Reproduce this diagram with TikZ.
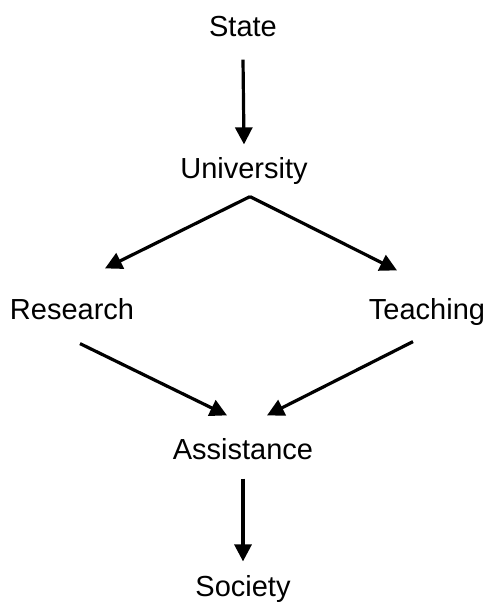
\documentclass[tikz,border=0pt]{standalone}
\usepackage{fontspec}
\setmainfont{Liberation Sans}
\usetikzlibrary{arrows.meta,positioning,calc}
\tikzset{>={Triangle[length=8.5pt,width=8.5pt]}}
\tikzset{lbl/.style={inner sep=0pt,text height=10.5pt,text depth=0pt,font=\fontsize{14.5}{17}\selectfont}}

\begin{document}
\begin{tikzpicture}[x=0.5pt,y=-0.5pt,line width=1.6pt]
    \useasboundingbox (0,0) rectangle (487,603);
    \node [lbl] (state) at (243,26) {State};
    \node [lbl] (univ) at (244,168) {University};
    \node [lbl] (res) at (72,309) {Research};
    \node [lbl] (teach) at (427,309) {Teaching};
    \node [lbl] (assist) at (243,449) {Assistance};
    \node [lbl] (soc) at (243,586) {Society};
    \draw [->] ($(state.south)+(0,21.5)$) -- ($(univ.north)+(0,-11.5)$);
    \draw [->] ($(univ.south)+(6,16.5)$) -- ($(res.north)+(33,-28.5)$);
    \draw [->] ($(univ.south)+(6,16.5)$) -- ($(teach.north)+(-30,-26.5)$);
    \draw [->] ($(res.south)+(8,22.5)$) -- ($(assist.north)+(-16,-21.5)$);
    \draw [->] ($(teach.south)+(-14,20.5)$) -- ($(assist.north)+(24,-21.5)$);
    \draw [->] ($(assist.south)+(0,17.5)$) -- ($(soc.north)+(0,-12.5)$);
  \end{tikzpicture}
\end{document}
